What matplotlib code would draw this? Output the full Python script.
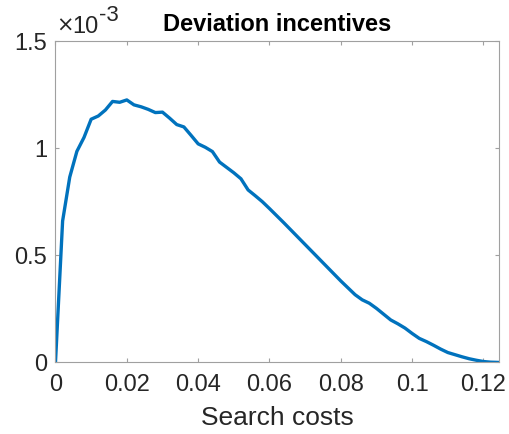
import numpy as np
import matplotlib
matplotlib.use("Agg")
import matplotlib.pyplot as plt
from matplotlib.ticker import FuncFormatter

# Search cost grid and deviation incentive (in units of 1e-3)
search_costs = np.arange(0, 0.1241, 0.002)
deviation_e3 = [
    0.000, 0.660, 0.865, 0.985, 1.050, 1.135, 1.150, 1.178, 1.218, 1.214,
    1.225, 1.202, 1.193, 1.181, 1.166, 1.168, 1.140, 1.110, 1.099, 1.060,
    1.020, 1.004, 0.984, 0.935, 0.910, 0.885, 0.857, 0.805, 0.778, 0.750,
    0.718, 0.685, 0.652, 0.618, 0.584, 0.550, 0.516, 0.482, 0.448, 0.414,
    0.380, 0.348, 0.316, 0.292, 0.276, 0.252, 0.225, 0.198, 0.180, 0.160,
    0.135, 0.112, 0.097, 0.080, 0.062, 0.046, 0.036, 0.026, 0.017, 0.010,
    0.004, 0.001, 0.000,
]
x_ticks = [0, 0.02, 0.04, 0.06, 0.08, 0.1, 0.12]
x_ticklabels = ["0", "0.02", "0.04", "0.06", "0.08", "0.1", "0.12"]
y_ticks_e3 = [0, 0.5, 1, 1.5]

plt.rcParams["font.family"] = ["Liberation Sans", "DejaVu Sans"]
text_color = "#262626"
axis_color = "#a0a0a0"

fig = plt.figure(figsize=(5.09, 4.34), dpi=100)
ax = fig.add_axes([0.109, 0.165, 0.871, 0.7405])

deviation = np.array(deviation_e3) * 1e-3
ax.plot(search_costs[:len(deviation)], deviation, color="#0072BD", linewidth=2.4,
        solid_joinstyle="round")

ax.set_xlim(0, 0.1243)
ax.set_ylim(0, 1.5e-3)
ax.set_xticks(x_ticks)
ax.set_xticklabels(x_ticklabels)
ax.set_yticks(np.array(y_ticks_e3) * 1e-3)
ax.yaxis.set_major_formatter(FuncFormatter(lambda v, p: f"{v * 1e3:g}"))

for s in ax.spines.values():
    s.set_color(axis_color)
    s.set_linewidth(0.8)
ax.tick_params(which="both", direction="in", length=3.2, width=0.8,
               color=axis_color, labelcolor=text_color, labelsize=17,
               top=True, right=True)
ax.tick_params(axis="x", pad=8.5)
ax.tick_params(axis="y", pad=6)

ax.set_title("Deviation incentives", fontsize=17, fontweight="bold",
             color="black", pad=7.4)
ax.set_xlabel("Search costs", fontsize=19, color=text_color, labelpad=7)

# Exponent marker for the y axis, drawn MATLAB-style
fig.text(56 / 509, 1 - 32 / 434, "\u00d7", fontsize=15, color=text_color,
         family="DejaVu Sans", ha="left", va="baseline")
fig.text(72 / 509, 1 - 33 / 434, "10", fontsize=17, color=text_color,
         ha="left", va="baseline")
fig.text(99 / 509, 1 - 21 / 434, "-3", fontsize=16, color=text_color,
         ha="left", va="baseline")

fig.savefig("out.png", dpi=100)
